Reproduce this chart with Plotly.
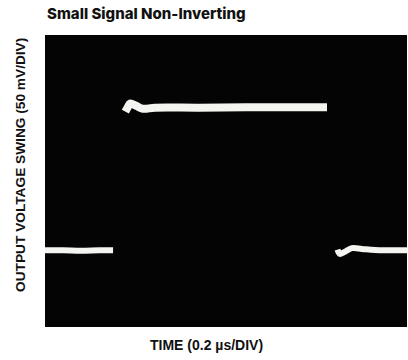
import plotly.graph_objects as go

# Oscilloscope capture: small-signal step response, non-inverting configuration
# Time in microseconds (0.2 us/div, 10 divisions), output in millivolts (50 mV/div, 8 divisions)
time_low_before = [0.0, 0.10, 0.20, 0.30, 0.376]
volt_low_before = [-95, -95, -95.5, -95, -95]

time_high = [0.444, 0.455, 0.470, 0.503, 0.541, 0.608, 0.85, 1.19, 1.558]
volt_high = [95, 100, 106, 103, 99, 100.5, 100.5, 101, 101]

time_low_after = [1.616, 1.630, 1.663, 1.696, 1.751, 1.823, 2.0]
volt_low_after = [-94, -100, -96, -92, -93, -94.5, -95]

x_range = [0, 2.0]
y_range = [-200, 200]

title_text = "Small Signal Non-Inverting"
y_title = "OUTPUT VOLTAGE SWING (50 mV/DIV)"
x_title = "TIME (0.2 \u00b5s/DIV)"

trace_color = "#f4f4f0"

fig = go.Figure()
fig.add_trace(go.Scatter(x=time_low_before, y=volt_low_before, mode="lines",
                         line=dict(color=trace_color, width=6, shape="spline"),
                         hoverinfo="skip"))
fig.add_trace(go.Scatter(x=time_high, y=volt_high, mode="lines",
                         line=dict(color=trace_color, width=8, shape="spline"),
                         hoverinfo="skip"))
fig.add_trace(go.Scatter(x=time_low_after, y=volt_low_after, mode="lines",
                         line=dict(color=trace_color, width=6, shape="spline"),
                         hoverinfo="skip"))

label_font = "'Liberation Sans', Arial, sans-serif"

fig.update_layout(
    width=408, height=360,
    margin=dict(l=45, r=1, t=35, b=33),
    paper_bgcolor="white",
    plot_bgcolor="#040404",
    showlegend=False,
    xaxis=dict(range=x_range, showgrid=False, zeroline=False,
               showticklabels=False, ticks="", fixedrange=True),
    yaxis=dict(range=y_range, showgrid=False, zeroline=False,
               showticklabels=False, ticks="", fixedrange=True),
    annotations=[
        dict(text=title_text, xref="paper", yref="paper",
             x=0.0, y=1.074, xanchor="left", yanchor="middle", showarrow=False,
             font=dict(family="Inter, 'Liberation Sans', Arial, sans-serif",
                       size=15, weight=800, color="#111")),
        dict(text=y_title, xref="paper", yref="paper",
             x=-0.0663, y=0.555, xanchor="center", yanchor="middle", showarrow=False,
             textangle=-90,
             font=dict(family=label_font, size=13.7, weight=900, color="#111")),
        dict(text=x_title, xref="paper", yref="paper",
             x=0.4475, y=-0.062, xanchor="center", yanchor="middle", showarrow=False,
             font=dict(family=label_font, size=14, weight=900, color="#111")),
    ],
)

fig.write_html("out.html")
